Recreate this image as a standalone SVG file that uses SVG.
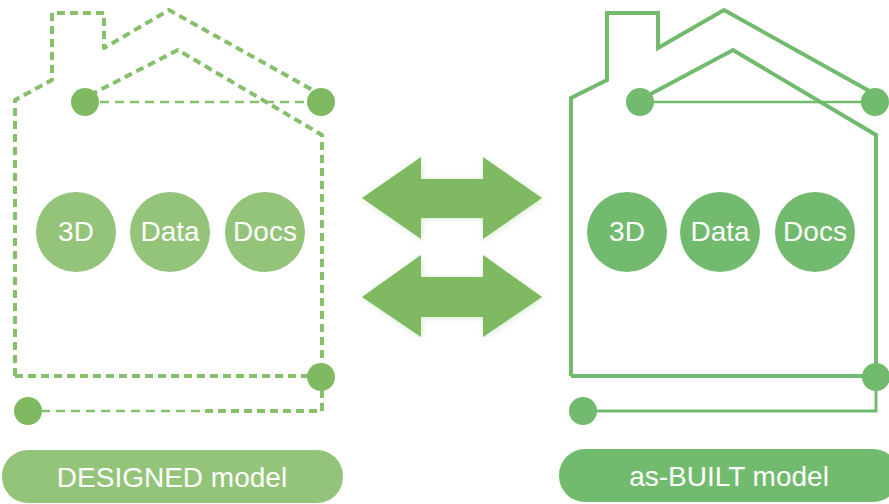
<svg xmlns="http://www.w3.org/2000/svg" width="889" height="504" viewBox="0 0 889 504">
<defs>
<style>
.dh{fill:none;stroke:#86c06b;stroke-width:4;stroke-dasharray:8 5;stroke-linejoin:round}
.dl{fill:none;stroke:#86c06b;stroke-width:2.5;stroke-dasharray:9 6}
.bh{fill:none;stroke:#72bb6e;stroke-width:4;stroke-linejoin:miter}
.bl{fill:none;stroke:#72bb6e;stroke-width:2.5}
.dn{fill:#7fba62}
.bn{fill:#72bb6e}
.dc{fill:#93c47a}
.bc{fill:#72bb6e}
.t{font-family:"Liberation Sans",Arial,sans-serif;fill:#fff;text-anchor:middle;font-size:28px}
.arr{fill:#7fba62}
</style>
<filter id="glow" x="-20%" y="-30%" width="140%" height="160%">
<feGaussianBlur in="SourceAlpha" stdDeviation="3" result="b"/>
<feFlood flood-color="#7fba62" flood-opacity="0.3"/>
<feComposite in2="b" operator="in" result="s"/>
<feOffset dx="1" dy="1"/>
<feMerge><feMergeNode/><feMergeNode in="SourceGraphic"/></feMerge>
</filter>
</defs>
<rect width="889" height="504" fill="#fff"/>

<g id="connectors">
<path class="dh" d="M15,376 V100 L52,80 V13 H104 V48 L169,10 L318,93"/>
<path class="dh" d="M90,95 L178,50 L322,135 V377"/>
<path class="dh" d="M15,376 H310"/>
<path class="dh" d="M322,390 V411 H200"/>
<path class="dl" d="M200,411 H40"/>
<path class="dl" d="M100,102 H308"/>
<path class="bh" d="M571,376 V98 L607,80 V13 H658 V48 L724,10 L873,93"/>
<path class="bh" d="M645,97 L733,50 L876,135 V377"/>
<path class="bh" d="M571,376 H876"/>
<path class="bl" style="stroke-width:3" d="M876,377 V411 H590"/>
<path class="bl" d="M640,102 H875"/>
</g>

<g id="designed-house">
<circle class="dn" cx="85" cy="102" r="14"/>
<circle class="dn" cx="321" cy="102" r="14"/>
<circle class="dn" cx="321" cy="377" r="14"/>
<circle class="dn" cx="28" cy="411" r="14"/>
</g>
<g id="designed-3d"><circle class="dc" cx="76" cy="232" r="40"/><text class="t" x="76" y="241">3D</text></g>
<g id="designed-data"><circle class="dc" cx="170" cy="232" r="40"/><text class="t" x="170" y="241">Data</text></g>
<g id="designed-docs"><circle class="dc" cx="265" cy="232" r="40"/><text class="t" x="265" y="241">Docs</text></g>

<g id="built-house">
<circle class="bn" cx="640" cy="102" r="14"/>
<circle class="bn" cx="875" cy="102" r="14"/>
<circle class="bn" cx="876" cy="377" r="14"/>
<circle class="bn" cx="583" cy="411" r="14"/>
</g>
<g id="built-3d"><circle class="bc" cx="627" cy="232" r="40"/><text class="t" x="627" y="241">3D</text></g>
<g id="built-data"><circle class="bc" cx="720" cy="232" r="40"/><text class="t" x="720" y="241">Data</text></g>
<g id="built-docs"><circle class="bc" cx="815" cy="232" r="40"/><text class="t" x="815" y="241">Docs</text></g>

<g id="arrow-top" filter="url(#glow)">
<path class="arr" d="M362,198 L421,157 V179 H483 V157 L542,198 L483,239 V218 H421 V239 Z"/>
</g>
<g id="arrow-bottom" filter="url(#glow)">
<path class="arr" d="M362,297 L421,255 V277 H483 V255 L542,297 L483,337 V317 H421 V337 Z"/>
</g>

<g id="label-designed">
<rect x="2" y="450" width="341" height="53" rx="26" class="dc"/>
<text class="t" x="172" y="487">DESIGNED model</text>
</g>
<g id="label-built">
<rect x="559" y="449" width="340" height="53" rx="26" class="bc"/>
<text class="t" x="729" y="486">as-BUILT model</text>
</g>
</svg>
